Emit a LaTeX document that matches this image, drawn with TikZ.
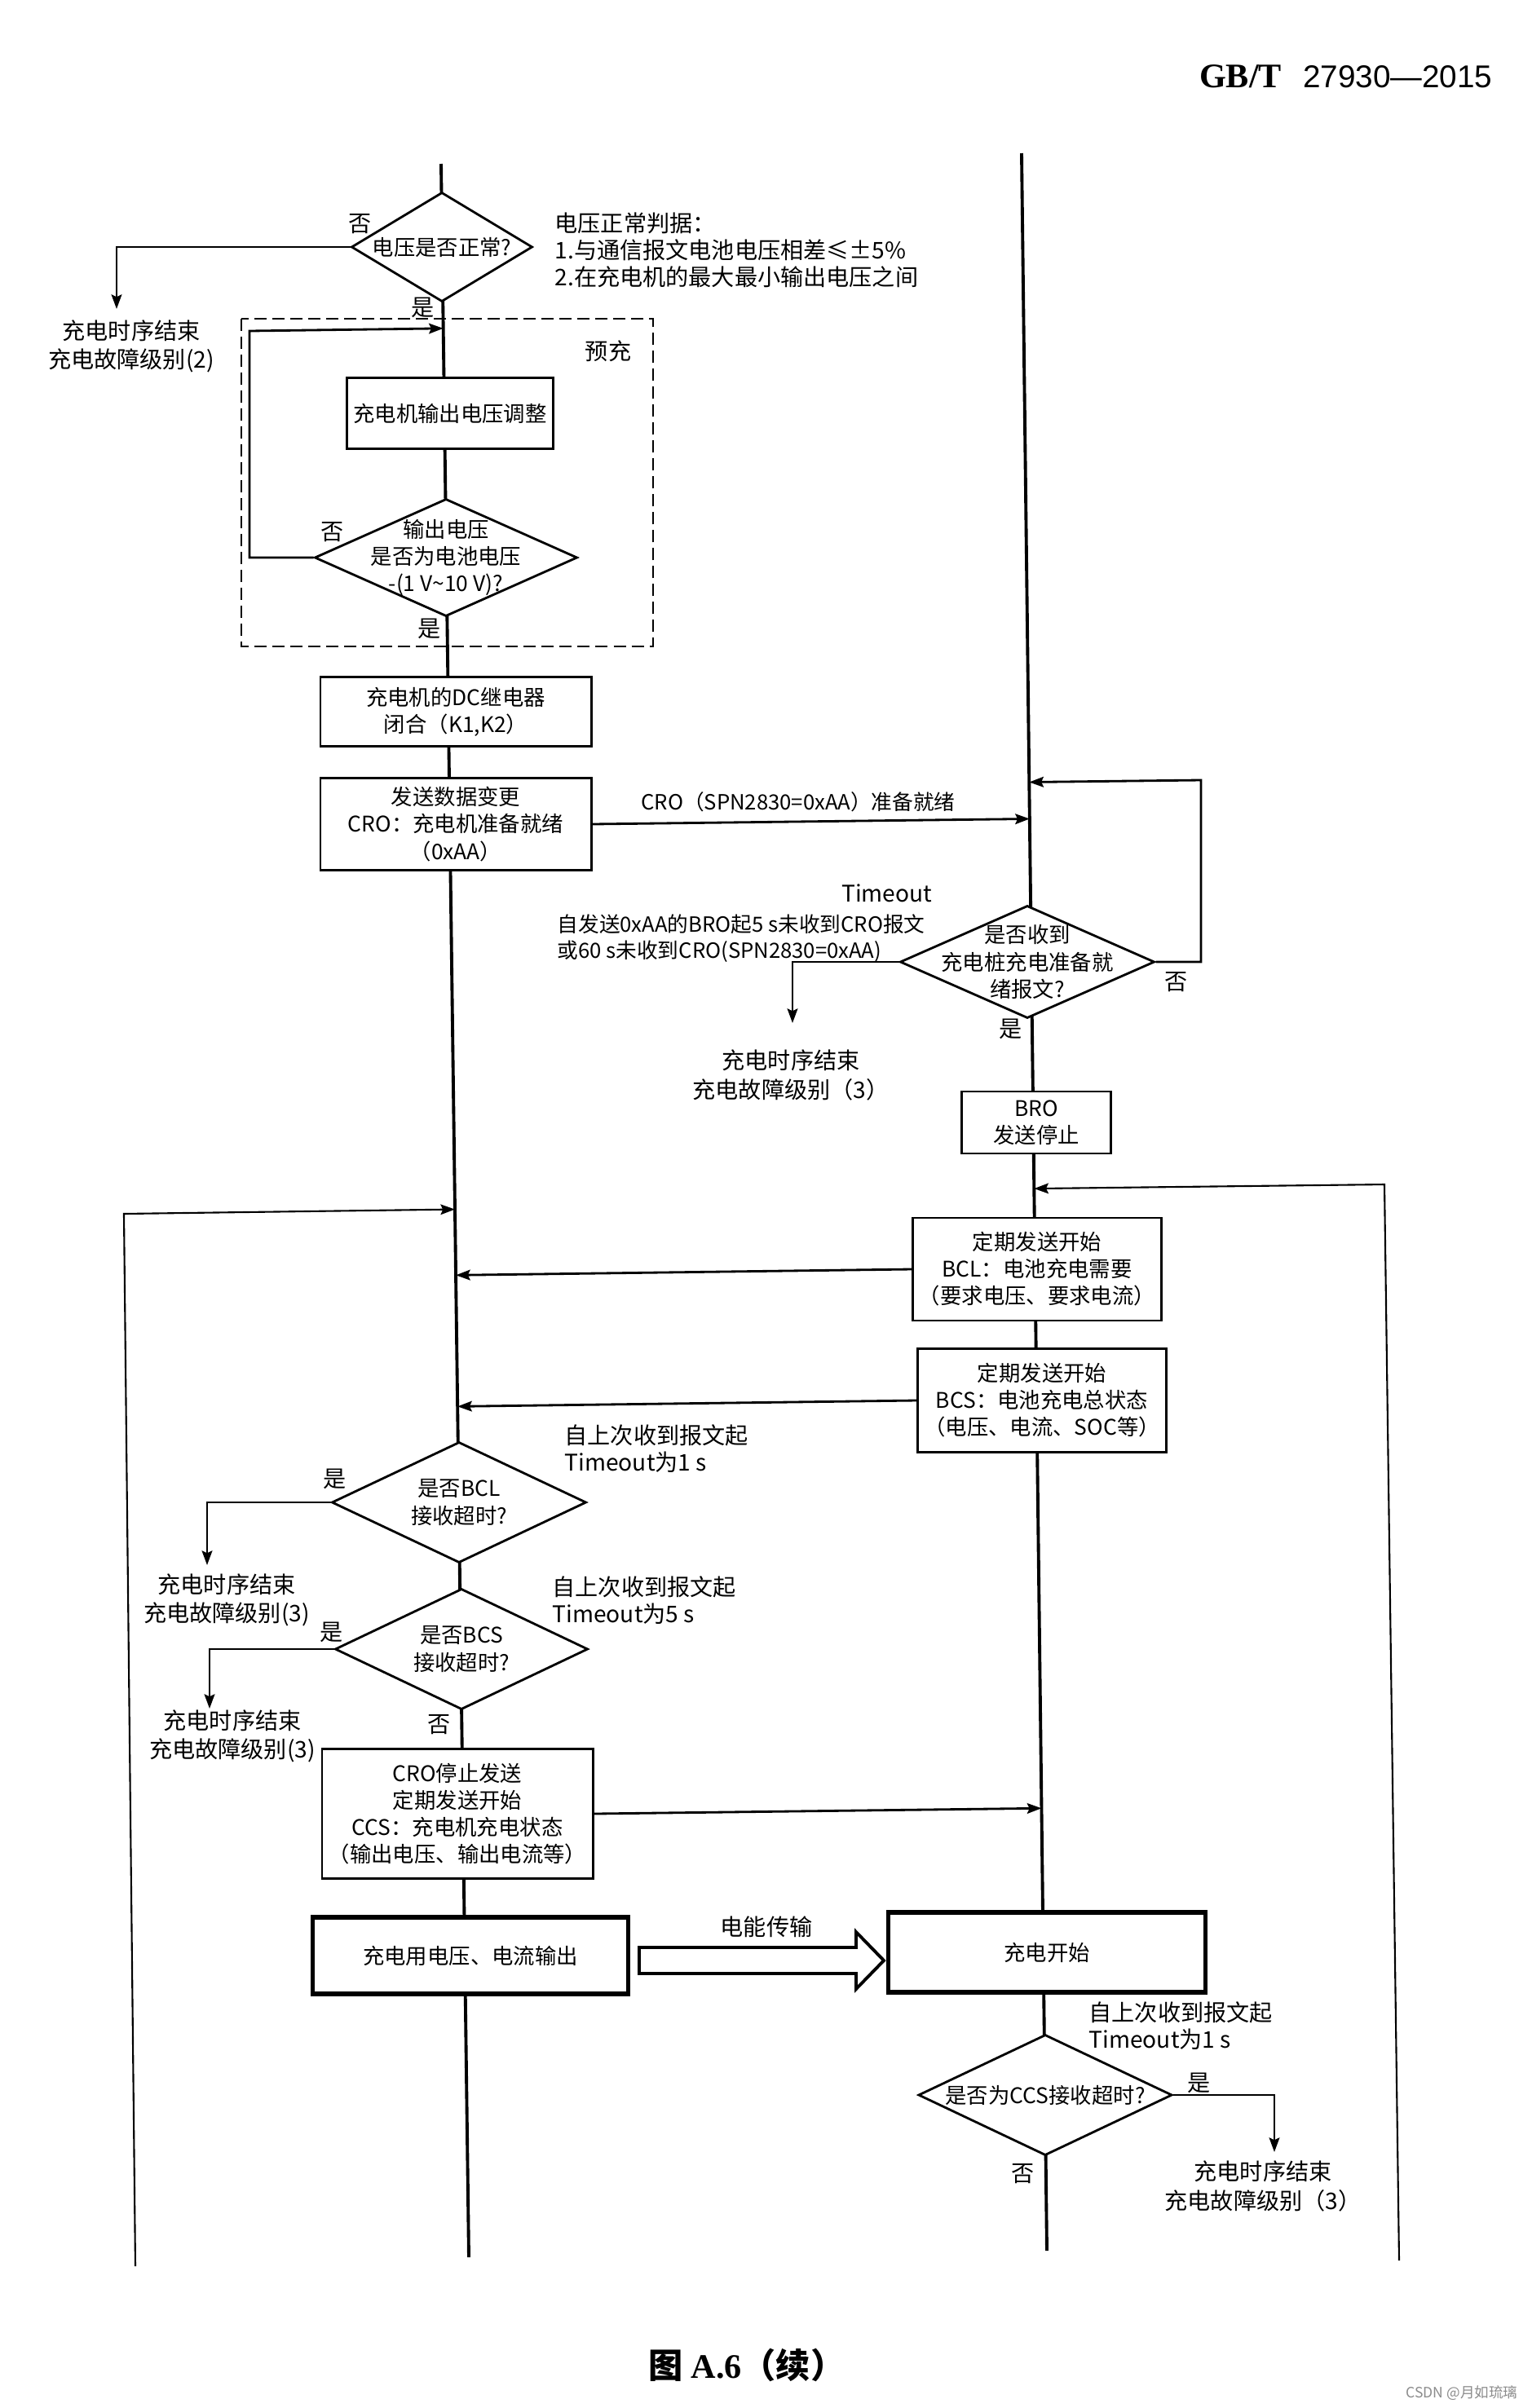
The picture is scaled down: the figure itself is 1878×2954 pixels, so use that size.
\documentclass[tikz,border=0pt]{standalone}
\usepackage{fontspec}
\setmainfont{Noto Sans CJK SC}
\newfontfamily\serifbf{Liberation Serif}
\newfontfamily\numsans{Liberation Sans}
\usetikzlibrary{arrows.meta, shapes.geometric, calc}

\begin{document}
\begin{tikzpicture}[
  x=0.01cm, y=-0.01cm,
  procbox/.style={
    rectangle, draw, fill=white, line width=0.8pt, inner sep=0pt,
    align=center, font=\fontsize{7.5}{9.4}\selectfont
  },
  thickbox/.style={procbox, line width=1.5pt},
  chk/.style={diamond, draw, fill=white, line width=0.8pt, inner sep=0pt},
  chktxt/.style={align=center, inner sep=0pt, font=\fontsize{7.5}{9.4}\selectfont},
  life/.style={line width=1.1pt},
  arr/.style={-{Stealth[length=5pt, width=3.6pt, inset=0.8pt]}, line width=0.8pt},
  loopline/.style={arr, line width=0.6pt},
  note/.style={inner sep=0pt, align=left, font=\fontsize{8}{9.4}\selectfont},
  smallnote/.style={note, font=\fontsize{7.3}{9}\selectfont},
  endtxt/.style={inner sep=0pt, align=center, font=\fontsize{8}{10}\selectfont},
  yn/.style={inner sep=0pt, font=\fontsize{8}{10}\selectfont}
]
  \fill[white] (0,0) rectangle (1878,2954);
  \useasboundingbox (0,0) rectangle (1878,2954);

  % Header
  \node[anchor=east, inner sep=0pt] (hdr) at (1831,94)
    {{\serifbf\bfseries\fontsize{12}{14}\selectfont GB/T}\hspace{2.6mm}{\numsans\fontsize{11}{13}\selectfont 27930—2015}};

  % Lifelines (charger left, BMS right)
  \coordinate (ltop) at (541,201);
  \coordinate (lend) at (575,2769);
  \coordinate (rtop) at (1253,188);
  \coordinate (rend) at (1284,2761);
  \draw[life] (ltop) -- (lend);
  \draw[life] (rtop) -- (rend);

  % Pre-charge frame
  \draw[line width=0.8pt, dash pattern=on 1.5mm off 0.7mm] (296,391) rectangle (801,793);
  \node[yn] (pre) at (746,431) {预充};

  % Charger side
  \node[chk, minimum width=2.22cm, minimum height=1.34cm] (volt) at (542,303) {};
  \node[chktxt] (voltt) at (volt) {电压是否正常?};
  \node[procbox, minimum width=2.53cm, minimum height=0.87cm] (adj) at (552,507) {充电机输出电压调整};
  \node[chk, minimum width=3.22cm, minimum height=1.44cm] (vchk) at (547,684) {};
  \node[chktxt] (vchkt) at (vchk) {输出电压\\是否为电池电压\\-(1 V\textasciitilde10 V)?};
  \node[procbox, minimum width=3.32cm, minimum height=0.85cm] (dc) at (559,873) {充电机的DC继电器\\闭合（K1,K2）};
  \node[procbox, minimum width=3.32cm, minimum height=1.13cm] (cro) at (559,1011) {发送数据变更\\CRO：充电机准备就绪\\（0xAA）};
  \node[chk, minimum width=3.12cm, minimum height=1.48cm] (bclchk) at (563,1843) {};
  \node[chktxt] (bclchkt) at (bclchk) {是否BCL\\接收超时?};
  \node[chk, minimum width=3.10cm, minimum height=1.48cm] (bcschk) at (566,2023) {};
  \node[chktxt] (bcschkt) at (bcschk) {是否BCS\\接收超时?};
  \node[procbox, minimum width=3.32cm, minimum height=1.59cm] (ccs) at (561,2225) {CRO停止发送\\定期发送开始\\CCS：充电机充电状态\\（输出电压、输出电流等）};
  \node[thickbox, minimum width=3.87cm, minimum height=0.94cm] (output) at (577,2399) {充电用电压、电流输出};

  % BMS side
  \node[chk, minimum width=3.12cm, minimum height=1.38cm] (wait) at (1260,1180) {};
  \node[chktxt] (waitt) at (wait) {是否收到\\充电桩充电准备就\\绪报文?};
  \node[procbox, minimum width=1.83cm, minimum height=0.76cm] (bro) at (1271,1377) {BRO\\发送停止};
  \node[procbox, minimum width=3.05cm, minimum height=1.26cm] (bcl) at (1272,1557) {定期发送开始\\BCL：电池充电需要\\（要求电压、要求电流）};
  \node[procbox, minimum width=3.05cm, minimum height=1.27cm] (bcs) at (1278,1718) {定期发送开始\\BCS：电池充电总状态\\（电压、电流、SOC等）};
  \node[thickbox, minimum width=3.89cm, minimum height=0.98cm] (start) at (1284,2395) {充电开始};
  \node[chk, minimum width=3.11cm, minimum height=1.48cm] (ccschk) at (1282,2570) {};
  \node[chktxt] (ccschkt) at (ccschk) {是否为CCS接收超时?};

  % Messages between the lifelines
  \draw[arr] (cro.east) -- ($(rtop)!(cro.east)!(rend)$);
  \draw[arr] (bcl.west) -- ($(ltop)!(bcl.west)!(lend)$);
  \draw[arr] (bcs.west) -- ($(ltop)!(bcs.west)!(lend)$);
  \draw[arr] (ccs.east) -- ($(rtop)!(ccs.east)!(rend)$);
  \draw[line width=1.1pt, fill=white] (784,2389) -- (1050,2389) -- (1050,2370) -- (1084,2405)
    -- (1050,2440) -- (1050,2421) -- (784,2421) -- cycle;

  % Loops back
  \coordinate (preloop) at (306,406);
  \draw[arr] (vchk.west) -| (preloop) -- ($(ltop)!(preloop)!(lend)$);
  \coordinate (waitloop) at (1473,957);
  \draw[arr] (wait.east) -| (waitloop) -- ($(rtop)!(waitloop)!(rend)$);
  \coordinate (lloopbot) at (166,2780);
  \coordinate (llooptop) at (152,1489);
  \draw[loopline] (lloopbot) -- (llooptop) -- ($(ltop)!(llooptop)!(lend)$);
  \coordinate (rloopbot) at (1716,2773);
  \coordinate (rlooptop) at (1698,1453);
  \draw[loopline] (rloopbot) -- (rlooptop) -- ($(rtop)!(rlooptop)!(rend)$);

  % Exits to end of sequence
  \coordinate (tipA) at (143,379);
  \coordinate (tipB) at (972,1255);
  \coordinate (tipC) at (254,1920);
  \coordinate (tipD) at (257,2096);
  \coordinate (tipE) at (1563,2640);
  \draw[arr] (volt.west) -| (tipA);
  \draw[arr] (wait.west) -| (tipB);
  \draw[arr] (bclchk.west) -| (tipC);
  \draw[arr] (bcschk.west) -| (tipD);
  \draw[arr] (ccschk.east) -| (tipE);
  \node[endtxt] (endA) at (161,425) {充电时序结束\\充电故障级别(2)};
  \node[endtxt] (endB) at (970,1319) {充电时序结束\\充电故障级别（3）};
  \node[endtxt] (endC) at (278,1963) {充电时序结束\\充电故障级别(3)};
  \node[endtxt] (endD) at (285,2130) {充电时序结束\\充电故障级别(3)};
  \node[endtxt] (endE) at (1549,2682) {充电时序结束\\充电故障级别（3）};

  % Yes / no labels
  \node[yn] (no1) at (442,275) {否};
  \node[yn] (yes1) at (519,377) {是};
  \node[yn] (no2) at (408,653) {否};
  \node[yn] (yes2) at (527,771) {是};
  \node[yn] (no3) at (1443,1205) {否};
  \node[yn] (yes3) at (1240,1262) {是};
  \node[yn] (yes4) at (411,1814) {是};
  \node[yn] (yes5) at (407,2002) {是};
  \node[yn] (no5) at (539,2116) {否};
  \node[yn] (yes6) at (1471,2555) {是};
  \node[yn] (no6) at (1255,2667) {否};

  % Notes
  \node[note, anchor=west] (crit) at (680,307) {电压正常判据：\\1.与通信报文电池电压相差≤±5\%\\2.在充电机的最大最小输出电压之间};
  \node[smallnote] (crolbl) at (979,984) {CRO（SPN2830=0xAA）准备就绪};
  \node[note, anchor=east] (tout) at (1144,1096) {Timeout};
  \node[smallnote, anchor=west] (tcond) at (683,1151) {自发送0xAA的BRO起5 s未收到CRO报文\\或60 s未收到CRO(SPN2830=0xAA)};
  \node[note, anchor=west] (tbcl) at (692,1777) {自上次收到报文起\\Timeout为1 s};
  \node[note, anchor=west] (tbcs) at (677,1963) {自上次收到报文起\\Timeout为5 s};
  \node[note, anchor=west] (tccs) at (1335,2485) {自上次收到报文起\\Timeout为1 s};
  \node[note] (elbl) at (940,2364) {电能传输};

  % Caption and mark
  \node[font=\fontsize{12}{14}\selectfont\bfseries, inner sep=0pt] (cap) at (916,2901) {图 {\serifbf A.6}（续）};
  \node[font=\fontsize{5}{6}\selectfont, text=black!45, inner sep=0pt] (mark) at (1793,2936) {CSDN @月如琉璃};
\end{tikzpicture}
\end{document}
